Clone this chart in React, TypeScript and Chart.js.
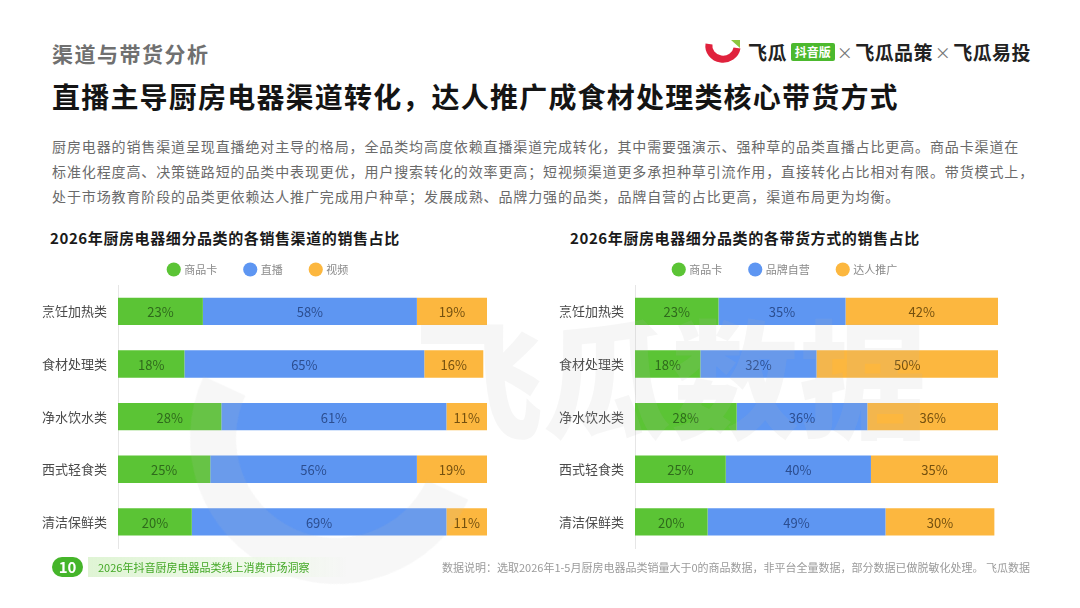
import React, { useEffect, useRef } from "react";
import { Chart, registerables } from "chart.js";

Chart.register(...registerables);

// Categories shared by both charts
const categories = ["烹饪加热类", "食材处理类", "净水饮水类", "西式轻食类", "清洁保鲜类"];

// Chart 1: sales channel share (%)
const channelNames = ["商品卡", "直播", "视频"];
const channelCard = [23, 18, 28, 25, 20];
const channelLive = [58, 65, 61, 56, 69];
const channelVideo = [19, 16, 11, 19, 11];

// Chart 2: selling mode share (%)
const modeNames = ["商品卡", "品牌自营", "达人推广"];
const modeCard = [23, 18, 28, 25, 20];
const modeBrand = [35, 32, 36, 40, 49];
const modeKol = [42, 50, 36, 35, 30];

const FONT = '"Noto Sans CJK SC", "Noto Sans", sans-serif';
const barColors = ["#5bc435", "#5e96f2", "#fcb73f"];
const labelColors = ["#2f6a1c", "#2c4e90", "#74500f"];

// Writes each segment's percentage in the middle of the segment
const valueLabels = {
  id: "valueLabels",
  afterDatasetsDraw(chart: any) {
    const ctx = chart.ctx;
    chart.data.datasets.forEach((ds: any, di: number) => {
      const meta = chart.getDatasetMeta(di);
      meta.data.forEach((bar: any, i: number) => {
        const { x, y, base } = bar.getProps(["x", "y", "base"], true);
        ctx.save();
        ctx.fillStyle = labelColors[di];
        ctx.font = `13px ${FONT}`;
        ctx.textAlign = "center";
        ctx.textBaseline = "middle";
        ctx.fillText(`${ds.data[i]}%`, (x + base) / 2, y + 1);
        ctx.restore();
      });
    });
  },
};

// Moves the legend sideways without touching the plot area
const legendShift = {
  id: "legendShift",
  afterLayout(chart: any, _args: any, opts: any) {
    const dx = opts && opts.dx ? opts.dx : 0;
    if (chart.legend && dx) {
      chart.legend.left += dx;
      chart.legend.right += dx;
    }
  },
};

function StackedBars(props: {
  names: string[];
  series: number[][];
  width: number;
  height: number;
  axisWidth: number;
  padRight: number;
  legendDx: number;
}) {
  const ref = useRef<HTMLCanvasElement>(null);
  useEffect(() => {
    const chart = new Chart(ref.current!, {
      type: "bar",
      data: {
        labels: categories,
        datasets: props.series.map((data, i) => ({
          label: props.names[i],
          data,
          backgroundColor: barColors[i],
          borderWidth: 0,
          categoryPercentage: 0.52,
          barPercentage: 1,
        })),
      },
      options: {
        indexAxis: "y",
        responsive: false,
        animation: false,
        layout: { autoPadding: false, padding: { left: 0, right: props.padRight, top: 0, bottom: 0 } },
        plugins: {
          tooltip: { enabled: false },
          legendShift: { dx: props.legendDx },
          legend: {
            position: "top",
            labels: {
              usePointStyle: true,
              pointStyle: "circle",
              boxWidth: 10,
              boxHeight: 10,
              padding: 28,
              color: "#8a8a8a",
              font: { size: 11, family: FONT },
            },
          },
        },
        scales: {
          x: { stacked: true, min: 0, max: 100, display: false },
          y: {
            stacked: true,
            grid: { display: false, drawTicks: false },
            border: { display: true, color: "#e6e6e6", width: 1 },
            ticks: { color: "#4a4a4a", padding: 11, font: { size: 13, family: FONT } },
            afterFit: (scale: any) => {
              scale.width = props.axisWidth;
            },
          },
        },
      },
      plugins: [valueLabels, legendShift],
    } as any);
    return () => chart.destroy();
  }, []);
  return <canvas ref={ref} width={props.width} height={props.height} style={{ display: "block" }} />;
}

const abs = (left: number, top: number, extra: React.CSSProperties = {}): React.CSSProperties => ({
  position: "absolute",
  left,
  top,
  whiteSpace: "nowrap",
  ...extra,
});

const paragraph = [
  "厨房电器的销售渠道呈现直播绝对主导的格局，全品类均高度依赖直播渠道完成转化，其中需要强演示、强种草的品类直播占比更高。商品卡渠道在",
  "标准化程度高、决策链路短的品类中表现更优，用户搜索转化的效率更高；短视频渠道更多承担种草引流作用，直接转化占比相对有限。带货模式上，",
  "处于市场教育阶段的品类更依赖达人推广完成用户种草；发展成熟、品牌力强的品类，品牌自营的占比更高，渠道布局更为均衡。",
];

export default function App() {
  return (
    <div
      style={{
        position: "relative",
        width: 1080,
        height: 608,
        margin: -8,
        background: "#ffffff",
        overflow: "hidden",
        fontFamily: FONT,
      }}
    >
      <div style={abs(52, 38, { fontSize: 21, fontWeight: 700, color: "#707070", letterSpacing: 1.5, lineHeight: "30px" })}>
        渠道与带货分析
      </div>
      <div style={abs(52, 77, { fontSize: 28, fontWeight: 700, color: "#141414", letterSpacing: 1.2, lineHeight: "38px" })}>
        直播主导厨房电器渠道转化，达人推广成食材处理类核心带货方式
      </div>

      {/* brand mark */}
      <svg style={abs(704, 36)} width={40} height={30} viewBox="0 0 40 30">
        <path d="M5 8 A 14 13 0 0 0 33 12" fill="none" stroke="#e0223d" strokeWidth={7} strokeLinecap="butt" />
        <path d="M27 4 L36 4 L36 12 Z" fill="#8cc63f" />
      </svg>
      <div style={abs(748, 39, { fontSize: 19, fontWeight: 700, color: "#222", lineHeight: "26px", display: "flex", alignItems: "center", letterSpacing: 0.4 })}>
        <span>飞瓜</span>
        <span
          style={{
            marginLeft: 4,
            background: "#4cb92e",
            color: "#fff",
            fontSize: 12,
            padding: "0 4px",
            lineHeight: "18px",
            borderRadius: 2,
            letterSpacing: 0,
          }}
        >
          抖音版
        </span>
        <span style={{ color: "#777", fontWeight: 400, fontSize: 16, margin: "0 2px" }}>×</span>
        <span>飞瓜品策</span>
        <span style={{ color: "#777", fontWeight: 400, fontSize: 16, margin: "0 2px" }}>×</span>
        <span>飞瓜易投</span>
      </div>

      {paragraph.map((line, i) => (
        <div key={i} style={abs(52, 134 + i * 25, { fontSize: 14, color: "#6a6a6a", letterSpacing: 0.88, lineHeight: "24px" })}>
          {line}
        </div>
      ))}

      <div style={abs(50, 228, { fontSize: 15, fontWeight: 700, color: "#1a1a1a", letterSpacing: 0.6, lineHeight: "20px" })}>
        2026年厨房电器细分品类的各销售渠道的销售占比
      </div>
      <div style={abs(570, 228, { fontSize: 15, fontWeight: 700, color: "#1a1a1a", letterSpacing: 0.6, lineHeight: "20px" })}>
        2026年厨房电器细分品类的各带货方式的销售占比
      </div>

      <div style={abs(30, 236)}>
        <StackedBars
          names={channelNames}
          series={[channelCard, channelLive, channelVideo]}
          width={465}
          height={331}
          axisWidth={88}
          padRight={8}
          legendDx={0}
        />
      </div>
      <div style={abs(545, 236)}>
        <StackedBars
          names={modeNames}
          series={[modeCard, modeBrand, modeKol]}
          width={484}
          height={331}
          axisWidth={90}
          padRight={31}
          legendDx={14}
        />
      </div>

      {/* background watermark */}
      <div
        style={abs(190, 292, {
          width: 200,
          height: 200,
          borderRadius: "50%",
          border: "46px solid rgba(185,185,185,0.12)",
          borderTopColor: "transparent",
          borderRightColor: "transparent",
          transform: "rotate(-20deg)",
          pointerEvents: "none",
        })}
      />
      <div
        style={abs(415, 294, {
          fontSize: 128,
          fontWeight: 900,
          color: "rgba(185,185,185,0.12)",
          lineHeight: "160px",
          pointerEvents: "none",
        })}
      >
        飞瓜数据
      </div>

      {/* footer */}
      <div
        style={abs(52, 557, {
          width: 31,
          height: 20,
          borderRadius: 10,
          background: "#45b52a",
          color: "#fff",
          fontSize: 15,
          fontWeight: 700,
          textAlign: "center",
          lineHeight: "20px",
        })}
      >
        10
      </div>
      <div
        style={abs(88, 557, {
          height: 20,
          width: 260,
          paddingLeft: 10,
          fontSize: 11,
          color: "#43a826",
          lineHeight: "20px",
          background: "linear-gradient(90deg, rgba(220,243,208,0.9), rgba(235,248,228,0.7) 70%, rgba(255,255,255,0))",
          boxSizing: "border-box",
        })}
      >
        2026年抖音厨房电器品类线上消费市场洞察
      </div>
      <div style={abs(0, 558, { width: 1030, textAlign: "right", fontSize: 11, color: "#9a9a9a", lineHeight: "18px" })}>
        数据说明：选取2026年1-5月厨房电器品类销量大于0的商品数据，非平台全量数据，部分数据已做脱敏化处理。 飞瓜数据
      </div>
    </div>
  );
}
